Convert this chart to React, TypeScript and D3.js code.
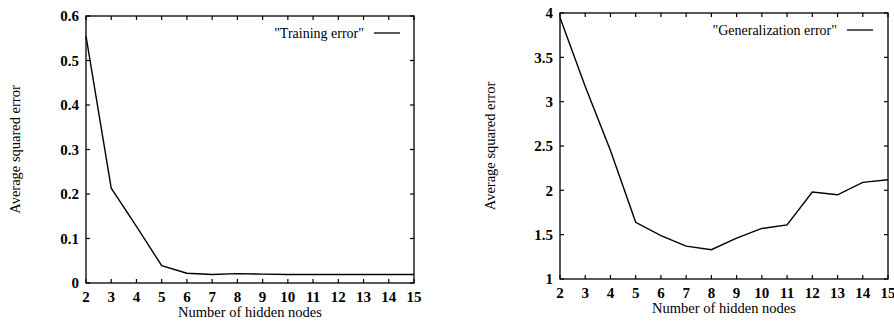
import React from "react";
import * as d3 from "d3";

const hiddenNodes = [2, 3, 4, 5, 6, 7, 8, 9, 10, 11, 12, 13, 14, 15];
const trainingError = [0.555, 0.213, 0.127, 0.039, 0.022, 0.019, 0.021, 0.02, 0.019, 0.019, 0.019, 0.019, 0.019, 0.019];
const generalizationError = [3.95, 3.17, 2.45, 1.64, 1.49, 1.37, 1.33, 1.46, 1.57, 1.61, 1.98, 1.95, 2.09, 2.12];
const trainingTicks = [0, 0.1, 0.2, 0.3, 0.4, 0.5, 0.6];
const generalizationTicks = [1, 1.5, 2, 2.5, 3, 3.5, 4];

const FONT = '"Liberation Serif", "DejaVu Serif", serif';

type PanelProps = {
  box: { left: number; right: number; top: number; bottom: number };
  values: number[];
  yTicks: number[];
  yDomain: [number, number];
  label: string;
  legendEnd: number;
  legendY: number;
  titleX: number;
  xLabelY: number;
  xTitleY: number;
};

const Panel = ({ box, values, yTicks, yDomain, label, legendEnd, legendY, titleX, xLabelY, xTitleY }: PanelProps) => {
  const x = d3.scaleLinear().domain([2, 15]).range([box.left, box.right]);
  const y = d3.scaleLinear().domain(yDomain).range([box.bottom, box.top]);
  const line = d3.line<number>()
    .x((_, i) => x(hiddenNodes[i]))
    .y(d => y(d));
  const tick = 4;
  const midY = (box.top + box.bottom) / 2;

  return (
    <g style={{ fontFamily: FONT }} fill="#000">
      <rect x={box.left} y={box.top} width={box.right - box.left} height={box.bottom - box.top}
        fill="none" stroke="#000" strokeWidth={1.3} />
      {hiddenNodes.map(n => (
        <g key={"x" + n}>
          <line x1={x(n)} x2={x(n)} y1={box.bottom} y2={box.bottom - tick} stroke="#000" strokeWidth={1.2} />
          <line x1={x(n)} x2={x(n)} y1={box.top} y2={box.top + tick} stroke="#000" strokeWidth={1.2} />
          <text x={x(n)} y={xLabelY} textAnchor="middle" fontSize={15} fontWeight="bold">{n}</text>
        </g>
      ))}
      {yTicks.map(t => (
        <g key={"y" + t}>
          <line x1={box.left} x2={box.left + tick} y1={y(t)} y2={y(t)} stroke="#000" strokeWidth={1.2} />
          <line x1={box.right} x2={box.right - tick} y1={y(t)} y2={y(t)} stroke="#000" strokeWidth={1.2} />
          <text x={box.left - 7} y={y(t)} dy="0.35em" textAnchor="end" fontSize={15} fontWeight="bold">{t}</text>
        </g>
      ))}
      <path d={line(values) ?? ""} fill="none" stroke="#000" strokeWidth={1.4} />
      <text x={legendEnd - 36} y={legendY} dy="0.35em" textAnchor="end" fontSize={14}>{label}</text>
      <line x1={legendEnd - 26} x2={legendEnd} y1={legendY} y2={legendY} stroke="#000" strokeWidth={1.3} />
      <text x={(box.left + box.right) / 2} y={xTitleY} textAnchor="middle" fontSize={14.5}>Number of hidden nodes</text>
      <text transform={`translate(${titleX},${midY}) rotate(-90)`} textAnchor="middle" dy="0.35em" fontSize={14.5}>
        Average squared error
      </text>
    </g>
  );
};

export default function App() {
  return (
    <svg width={894} height={321} style={{ position: "absolute", left: 0, top: 0, background: "#fff" }}>
      <Panel
        box={{ left: 86, right: 414, top: 16, bottom: 283 }}
        values={trainingError}
        yTicks={trainingTicks}
        yDomain={[0, 0.6]}
        label={'"Training error"'}
        legendEnd={400}
        legendY={33}
        titleX={15}
        xLabelY={302}
        xTitleY={317}
      />
      <Panel
        box={{ left: 560, right: 888, top: 13, bottom: 279 }}
        values={generalizationError}
        yTicks={generalizationTicks}
        yDomain={[1, 4]}
        label={'"Generalization error"'}
        legendEnd={873}
        legendY={30}
        titleX={490}
        xLabelY={298}
        xTitleY={313}
      />
    </svg>
  );
}
